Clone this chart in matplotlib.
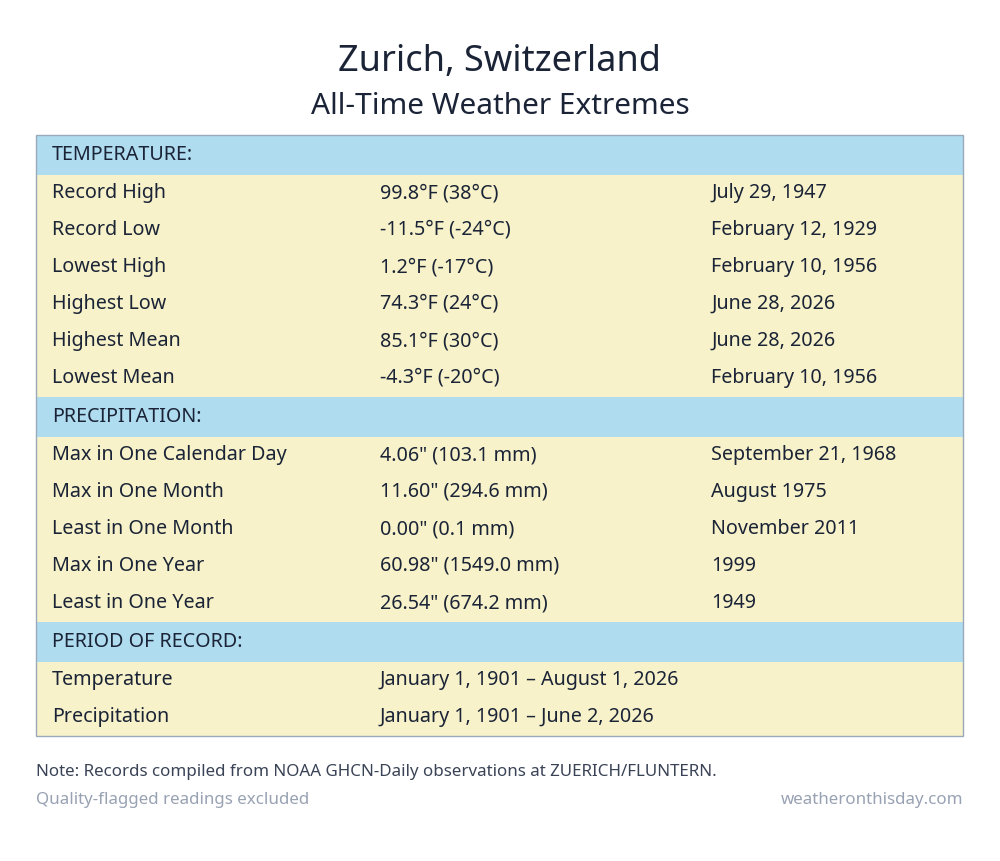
import matplotlib
matplotlib.use("Agg")
import matplotlib.pyplot as plt
from matplotlib.patches import Rectangle

plt.rcParams['font.family'] = ['Noto Sans', 'DejaVu Sans']

title = "Zurich, Switzerland"
subtitle = "All-Time Weather Extremes"

sections = ["TEMPERATURE:", "PRECIPITATION:", "PERIOD OF RECORD:"]
temp_labels = ["Record High", "Record Low", "Lowest High", "Highest Low", "Highest Mean", "Lowest Mean"]
temp_values = ["99.8°F (38°C)", "-11.5°F (-24°C)", "1.2°F (-17°C)", "74.3°F (24°C)", "85.1°F (30°C)", "-4.3°F (-20°C)"]
temp_dates = ["July 29, 1947", "February 12, 1929", "February 10, 1956", "June 28, 2026", "June 28, 2026", "February 10, 1956"]
prcp_labels = ["Max in One Calendar Day", "Max in One Month", "Least in One Month", "Max in One Year", "Least in One Year"]
prcp_values = ['4.06" (103.1 mm)', '11.60" (294.6 mm)', '0.00" (0.1 mm)', '60.98" (1549.0 mm)', '26.54" (674.2 mm)']
prcp_dates = ["September 21, 1968", "August 1975", "November 2011", "1999", "1949"]
period_labels = ["Temperature", "Precipitation"]
period_values = ["January 1, 1901 – August 1, 2026", "January 1, 1901 – June 2, 2026"]
period_dates = ["", ""]

note = "Note: Records compiled from NOAA GHCN-Daily observations at ZUERICH/FLUNTERN."
footer_left = "Quality-flagged readings excluded"
footer_right = "weatheronthisday.com"

TEXT = "#1b2437"
BLUE = "#b0dcf0"
YELLOW = "#f7f2c9"

fig = plt.figure(figsize=(10, 8.61), dpi=100)
ax = fig.add_axes([0, 0, 1, 1])
ax.set_xlim(0, 1000)
ax.set_ylim(861, 0)
ax.axis("off")

ax.text(500, 62, title, ha="center", va="center", fontsize=26, color=TEXT)
ax.text(500, 107, subtitle, ha="center", va="center", fontsize=21.5, color=TEXT)

left, right = 36, 963
x_cols = [52, 380, 711]
y = 135
blocks = [(temp_labels, temp_values, temp_dates),
          (prcp_labels, prcp_values, prcp_dates),
          (period_labels, period_values, period_dates)]
for name, (labels, values, dates) in zip(sections, blocks):
    ax.add_patch(Rectangle((left, y), right - left, 40, color=BLUE, lw=0))
    ax.text(x_cols[0], y + 20, name, va="center", fontsize=14.2, color=TEXT)
    y += 40
    h = 37 * len(labels)
    ax.add_patch(Rectangle((left, y), right - left, h, color=YELLOW, lw=0))
    for i, row in enumerate(zip(labels, values, dates)):
        for x, s in zip(x_cols, row):
            ax.text(x, y + 18 + 37 * i, s, va="center", fontsize=14.2, color=TEXT)
    y += h
ax.add_patch(Rectangle((left, 135), right - left, y - 135, fill=False, ec="#9aaabb", lw=1))

ax.text(36, 772, note, va="center", fontsize=12.2, color="#3a4356")
ax.text(36, 800, footer_left, va="center", fontsize=12.2, color="#98a2b3")
ax.text(963, 800, footer_right, va="center", ha="right", fontsize=12.2, color="#98a2b3")

fig.savefig("out.png", dpi=100)
